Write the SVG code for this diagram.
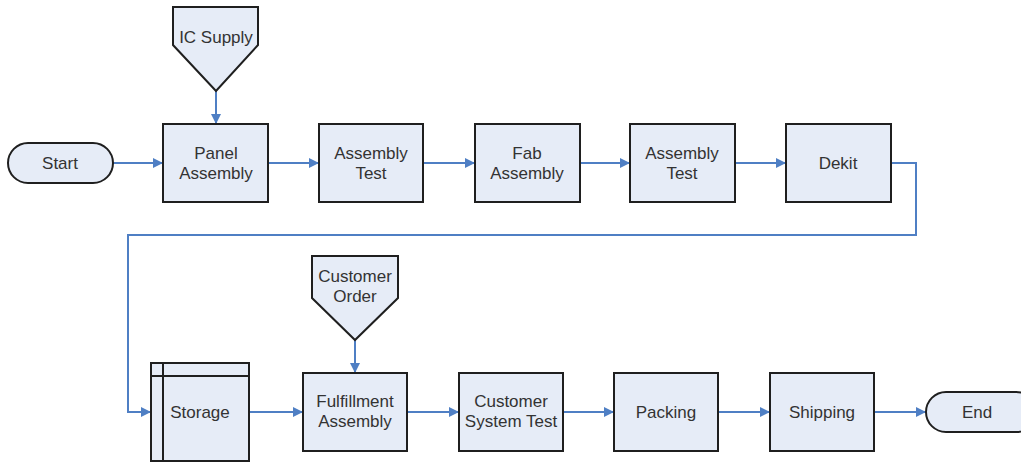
<svg xmlns="http://www.w3.org/2000/svg" width="1021" height="463" viewBox="0 0 1021 463">
  <style>
    .shape { fill: #e6ecf7; stroke: #1f1f1f; stroke-width: 2; }
    .inner { fill: none; stroke: #1f1f1f; stroke-width: 2; }
    .label { font-family: "Liberation Sans", Arial, sans-serif; font-size: 17px; fill: #333333; text-anchor: middle; }
    .conn { fill: none; stroke: #4f7fc4; stroke-width: 2; marker-end: url(#arrow); }
  </style>
  <defs>
    <marker id="arrow" viewBox="0 0 10 10" refX="10" refY="5" markerWidth="11" markerHeight="10" markerUnits="userSpaceOnUse" orient="auto">
      <path d="M0,0 L10,5 L0,10 Z" fill="#4f7fc4"/>
    </marker>
  </defs>
  <rect width="1021" height="463" fill="#ffffff"/>

  <!-- connectors -->
  <g id="connectors">
    <path class="conn" d="M113,163 H163"/>
    <path class="conn" d="M216,91 V124"/>
    <path class="conn" d="M268,163 H319"/>
    <path class="conn" d="M423,163 H475"/>
    <path class="conn" d="M580,163 H630"/>
    <path class="conn" d="M735,163 H786"/>
    <path class="conn" d="M891,163 H916 V235 H128 V412 H151"/>
    <path class="conn" d="M249,412 H303"/>
    <path class="conn" d="M355,340 V373"/>
    <path class="conn" d="M407,412 H459"/>
    <path class="conn" d="M563,412 H614"/>
    <path class="conn" d="M718,412 H770"/>
    <path class="conn" d="M874,412 H926"/>
  </g>

  <!-- row 1 -->
  <g id="start">
    <rect class="shape" x="8" y="143" width="105" height="40" rx="20" ry="20"/>
    <text class="label" x="60" y="169">Start</text>
  </g>
  <g id="ic-supply">
    <path class="shape" d="M173,7 H258 V45 L216,91 L173,45 Z"/>
    <text class="label" x="216" y="43">IC Supply</text>
  </g>
  <g id="panel-assembly">
    <rect class="shape" x="163" y="124" width="105" height="78"/>
    <text class="label" x="216" y="159">Panel</text>
    <text class="label" x="216" y="179">Assembly</text>
  </g>
  <g id="assembly-test-1">
    <rect class="shape" x="319" y="124" width="104" height="78"/>
    <text class="label" x="371" y="159">Assembly</text>
    <text class="label" x="371" y="179">Test</text>
  </g>
  <g id="fab-assembly">
    <rect class="shape" x="475" y="124" width="105" height="78"/>
    <text class="label" x="527" y="159">Fab</text>
    <text class="label" x="527" y="179">Assembly</text>
  </g>
  <g id="assembly-test-2">
    <rect class="shape" x="630" y="124" width="105" height="78"/>
    <text class="label" x="682" y="159">Assembly</text>
    <text class="label" x="682" y="179">Test</text>
  </g>
  <g id="dekit">
    <rect class="shape" x="786" y="124" width="105" height="78"/>
    <text class="label" x="838" y="169">Dekit</text>
  </g>

  <!-- row 2 -->
  <g id="storage">
    <rect class="shape" x="151" y="363" width="98" height="98"/>
    <path class="inner" d="M163,363 V461 M151,376 H249"/>
    <text class="label" x="200" y="418">Storage</text>
  </g>
  <g id="customer-order">
    <path class="shape" d="M312,256 H398 V298 L355,340 L312,298 Z"/>
    <text class="label" x="355" y="282">Customer</text>
    <text class="label" x="355" y="302">Order</text>
  </g>
  <g id="fulfillment-assembly">
    <rect class="shape" x="303" y="373" width="104" height="78"/>
    <text class="label" x="355" y="407">Fulfillment</text>
    <text class="label" x="355" y="427">Assembly</text>
  </g>
  <g id="customer-system-test">
    <rect class="shape" x="459" y="373" width="104" height="78"/>
    <text class="label" x="511" y="407">Customer</text>
    <text class="label" x="511" y="427">System Test</text>
  </g>
  <g id="packing">
    <rect class="shape" x="614" y="373" width="104" height="78"/>
    <text class="label" x="666" y="418">Packing</text>
  </g>
  <g id="shipping">
    <rect class="shape" x="770" y="373" width="104" height="78"/>
    <text class="label" x="822" y="418">Shipping</text>
  </g>
  <g id="end">
    <rect class="shape" x="926" y="392" width="110" height="40" rx="20" ry="20"/>
    <text class="label" x="977" y="418">End</text>
  </g>
</svg>
